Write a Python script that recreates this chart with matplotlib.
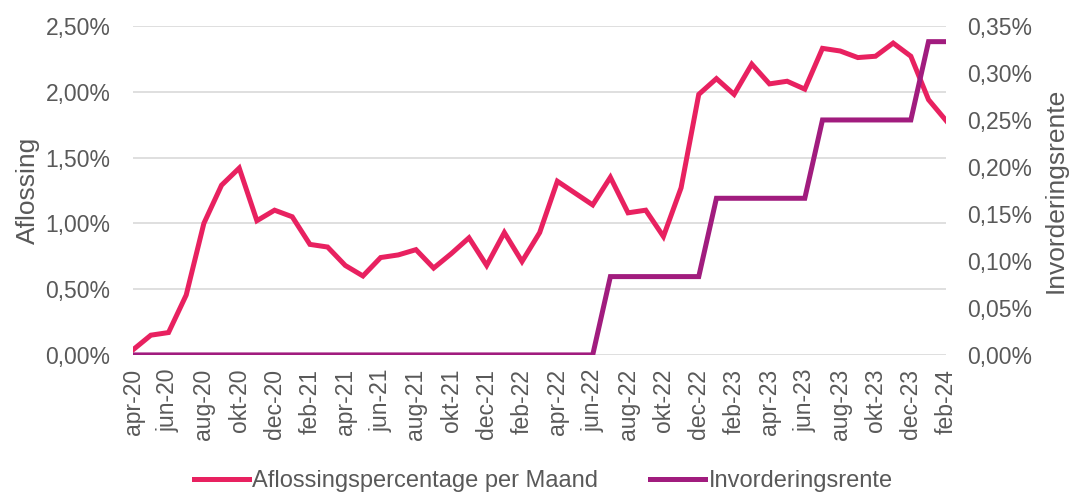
import matplotlib
matplotlib.use("Agg")
import matplotlib.pyplot as plt
from matplotlib.ticker import FuncFormatter, MultipleLocator
from matplotlib import font_manager

months = ["apr-20","mei-20","jun-20","jul-20","aug-20","sep-20","okt-20","nov-20","dec-20",
          "jan-21","feb-21","mrt-21","apr-21","mei-21","jun-21","jul-21","aug-21","sep-21","okt-21","nov-21","dec-21",
          "jan-22","feb-22","mrt-22","apr-22","mei-22","jun-22","jul-22","aug-22","sep-22","okt-22","nov-22","dec-22",
          "jan-23","feb-23","mrt-23","apr-23","mei-23","jun-23","jul-23","aug-23","sep-23","okt-23","nov-23","dec-23",
          "jan-24","feb-24"]

aflossing = [0.04, 0.15, 0.17, 0.455, 1.00, 1.29, 1.42, 1.02, 1.10,
             1.05, 0.84, 0.82, 0.68, 0.60, 0.74, 0.76, 0.80, 0.66, 0.77, 0.89, 0.68,
             0.93, 0.71, 0.93, 1.32, 1.23, 1.14, 1.35, 1.08, 1.10, 0.90, 1.27, 1.98,
             2.10, 1.98, 2.21, 2.06, 2.08, 2.02, 2.33, 2.31, 2.26, 2.27, 2.37, 2.27,
             1.94, 1.78]

invorderingsrente = [0.0]*27 + [1/12]*6 + [2/12]*6 + [3/12]*6 + [4/12]*2

label_left = "Aflossing"
label_right = "Invorderingsrente"
series_names = ["Aflossingspercentage per Maand", "Invorderingsrente"]

avail = {f.name for f in font_manager.fontManager.ttflist}
main_font = "Liberation Sans" if "Liberation Sans" in avail else "DejaVu Sans"
plt.rcParams['font.family'] = [main_font, 'DejaVu Sans']

red = "#E82160"
purple = "#A11C7E"
gray = "#595959"

fig = plt.figure(figsize=(10.74, 4.95), dpi=100)
ax = fig.add_axes([0.124, 0.283, 0.757, 0.6645])
ax2 = ax.twinx()

x = list(range(len(months)))
l1, = ax.plot(x, aflossing, color=red, lw=3.6, solid_joinstyle='miter', zorder=3)
l2, = ax2.plot(x, invorderingsrente, color=purple, lw=3.6, solid_joinstyle='miter', zorder=3)

ax.set_xlim(0, len(months) - 1)
ax.set_ylim(0, 2.5)
ax2.set_ylim(0, 0.35)
ax.yaxis.set_major_locator(MultipleLocator(0.5))
ax2.yaxis.set_major_locator(MultipleLocator(0.05))

fmt = FuncFormatter(lambda v, p: f"{v:.2f}".replace(".", ",") + "%")
ax.yaxis.set_major_formatter(fmt)
ax2.yaxis.set_major_formatter(fmt)

ax.set_xticks(x[::2])
ax.set_xticklabels(months[::2], rotation=90)

ax.grid(axis='y', color="#D9D9D9", lw=1.2)
ax.set_axisbelow(True)
for a in (ax, ax2):
    for s in a.spines.values():
        s.set_visible(False)
    a.tick_params(length=0, labelsize=16.5, colors=gray)
ax.tick_params(axis='y', pad=16.5)
ax2.tick_params(axis='y', pad=15)
ax.tick_params(axis='x', pad=10)

ax.set_ylabel(label_left, fontsize=19, color=gray, labelpad=4)
ax2.set_ylabel(label_right, fontsize=19, color=gray, labelpad=8)

leg = fig.legend([l1, l2], series_names, loc='center', bbox_to_anchor=(0.506, 0.028),
                 ncol=2, frameon=False, handlelength=2.33, handletextpad=0.13, columnspacing=2.2,
                 fontsize=17)
for t in leg.get_texts():
    t.set_color(gray)

fig.savefig("out.png", dpi=100)
